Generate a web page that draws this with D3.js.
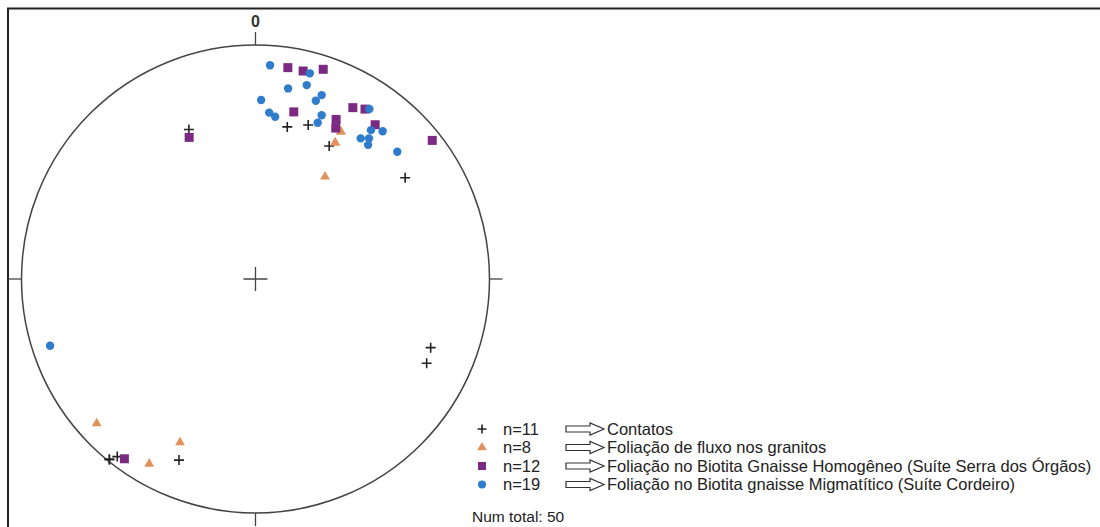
<!DOCTYPE html>
<html>
<head>
<meta charset="utf-8">
<script src="https://cdn.jsdelivr.net/npm/d3@7"></script>
<style>
  body { margin: 0; background: #fff; }
  svg { display: block; font-family: "Liberation Sans", Arial, sans-serif; }
</style>
</head>
<body>
<script>
// lineations as [trend, plunge] in degrees, lower hemisphere
const contatos = [
  [336.0, 30.7], [11.8, 34.0], [18.9, 31.1], [29.0, 35.3], [55.9, 23.8],
  [111.4, 20.7], [116.2, 19.6], [219.0, 0.9], [217.9, 4.3], [202.9, 17.1],
  [219.0, 0.9],
];
const fluxo = [
  [30.1, 28.1], [30.3, 33.0], [34.2, 46.1], [227.7, 9.1], [204.8, 24.1],
  [209.9, 9.8], [30.1, 28.1], [30.3, 33.0],
];
const homogeneo = [
  [8.7, 9.5], [12.9, 9.7], [17.9, 6.5], [12.9, 27.6], [29.6, 16.9],
  [32.8, 14.7], [26.8, 24.6], [28.0, 27.8], [37.8, 17.7], [51.9, 4.5],
  [334.9, 33.6], [216.1, 5.5],
];
const migmatitico = [
  [3.9, 9.3], [14.8, 10.0], [14.8, 15.4], [9.7, 18.5], [1.8, 24.5],
  [19.8, 17.6], [18.7, 20.7], [4.7, 29.4], [6.9, 30.8], [22.0, 25.5],
  [21.7, 28.9], [33.8, 13.6], [37.8, 20.6], [40.7, 17.8], [36.8, 25.9],
  [38.9, 23.8], [40.0, 26.1], [48.1, 19.7], [252.0, 8.5],
];
const legendCounts = ["n=11", "n=8", "n=12", "n=19"];
const legendLabels = [
  "Contatos",
  "Foliação de fluxo nos granitos",
  "Foliação no Biotita Gnaisse Homogêneo (Suíte Serra dos Órgãos)",
  "Foliação no Biotita gnaisse Migmatítico (Suíte Cordeiro)",
];
const totalLabel = "Num total: 50";

const W = 1100, H = 527;
const cx = 255.5, cy = 279, R = 234;

const svg = d3.select("body").append("svg")
  .attr("width", W).attr("height", H);

// frame
svg.append("path")
  .attr("d", `M8,${H + 5} L8,8.5 L${W + 5},8.5`)
  .attr("fill", "none").attr("stroke", "#222").attr("stroke-width", 2);

// equal-area (Schmidt) radius scale
const rScale = d3.scaleLinear().domain([0, 1]).range([0, R]);
function project(d) {
  const t = d[0] * Math.PI / 180;
  const c = (90 - d[1]) * Math.PI / 180;
  const r = rScale(Math.SQRT2 * Math.sin(c / 2));
  return [cx + r * Math.sin(t), cy - r * Math.cos(t)];
}

const net = svg.append("g");
net.append("circle")
  .attr("cx", cx).attr("cy", cy).attr("r", R)
  .attr("fill", "none").attr("stroke", "#444").attr("stroke-width", 1.5);

const tick = 13;
const ticks = [[0, -1], [1, 0], [0, 1], [-1, 0]];
net.selectAll(".tick").data(ticks).join("line")
  .attr("x1", (d) => cx + d[0] * R).attr("y1", (d) => cy + d[1] * R)
  .attr("x2", (d) => cx + d[0] * (R + tick)).attr("y2", (d) => cy + d[1] * (R + tick))
  .attr("stroke", "#444").attr("stroke-width", 1.3);

net.append("path")
  .attr("d", `M${cx - 12},${cy} H${cx + 12} M${cx},${cy - 12} V${cy + 12}`)
  .attr("stroke", "#444").attr("stroke-width", 1.3);

net.append("text")
  .attr("x", cx).attr("y", 27)
  .attr("text-anchor", "middle")
  .attr("font-size", 16).attr("font-weight", "bold").attr("fill", "#333")
  .text("0");

const colors = {
  cross: "#222",
  tri: "#e2915a",
  sq: "#7b2a84",
  dot: "#2f7ccb",
};

const crossPath = "M-5,0 H5 M0,-5 V5";
const triPath = d3.symbol(d3.symbolTriangle, 42)();
const sqPath = "M-4.5,-4.5 H4.5 V4.5 H-4.5 Z";

const pts = svg.append("g");
pts.selectAll(".c").data(contatos).join("path")
  .attr("transform", (d) => `translate(${project(d)})`)
  .attr("d", crossPath)
  .attr("stroke", colors.cross).attr("stroke-width", 1.6);

pts.selectAll(".t").data(fluxo).join("path")
  .attr("transform", (d) => `translate(${project(d)})`)
  .attr("d", triPath).attr("fill", colors.tri);

pts.selectAll(".s").data(homogeneo).join("path")
  .attr("transform", (d) => `translate(${project(d)})`)
  .attr("d", sqPath).attr("fill", colors.sq);

pts.selectAll(".d").data(migmatitico).join("circle")
  .attr("transform", (d) => `translate(${project(d)})`)
  .attr("r", 4.2).attr("fill", colors.dot);

// legend
const rowY = [429, 447.5, 466, 484.5];
const legend = svg.append("g").attr("font-size", 16.5).attr("fill", "#222");
const rows = legend.selectAll("g").data(legendLabels).join("g")
  .attr("transform", (d, i) => `translate(0,${rowY[i]})`);

rows.each(function (d, i) {
  const g = d3.select(this);
  const sx = 482;
  if (i === 0) {
    g.append("path").attr("transform", `translate(${sx},0)`)
      .attr("d", "M-4.5,0 H4.5 M0,-4.5 V4.5")
      .attr("stroke", colors.cross).attr("stroke-width", 1.6);
  } else if (i === 1) {
    g.append("path").attr("transform", `translate(${sx},0)`)
      .attr("d", d3.symbol(d3.symbolTriangle, 40)()).attr("fill", colors.tri);
  } else if (i === 2) {
    g.append("path").attr("transform", `translate(${sx},0)`)
      .attr("d", "M-4,-4 H4 V4 H-4 Z").attr("fill", colors.sq);
  } else {
    g.append("circle").attr("cx", sx).attr("r", 4).attr("fill", colors.dot);
  }
  g.append("text").attr("x", 503).attr("dy", "0.35em").text(legendCounts[i]);
  g.append("path").attr("transform", "translate(566,0)")
    .attr("d", "M0,-3 H24 V-6 L38,0 L24,6 V3 H0 Z")
    .attr("fill", "#fff").attr("stroke", "#333").attr("stroke-width", 1.2);
  g.append("text").attr("x", 607).attr("dy", "0.35em").text(d);
});

legend.append("text").attr("x", 472).attr("y", 517).attr("dy", "0.35em")
  .attr("font-size", 15.5)
  .text(totalLabel);
</script>
</body>
</html>
